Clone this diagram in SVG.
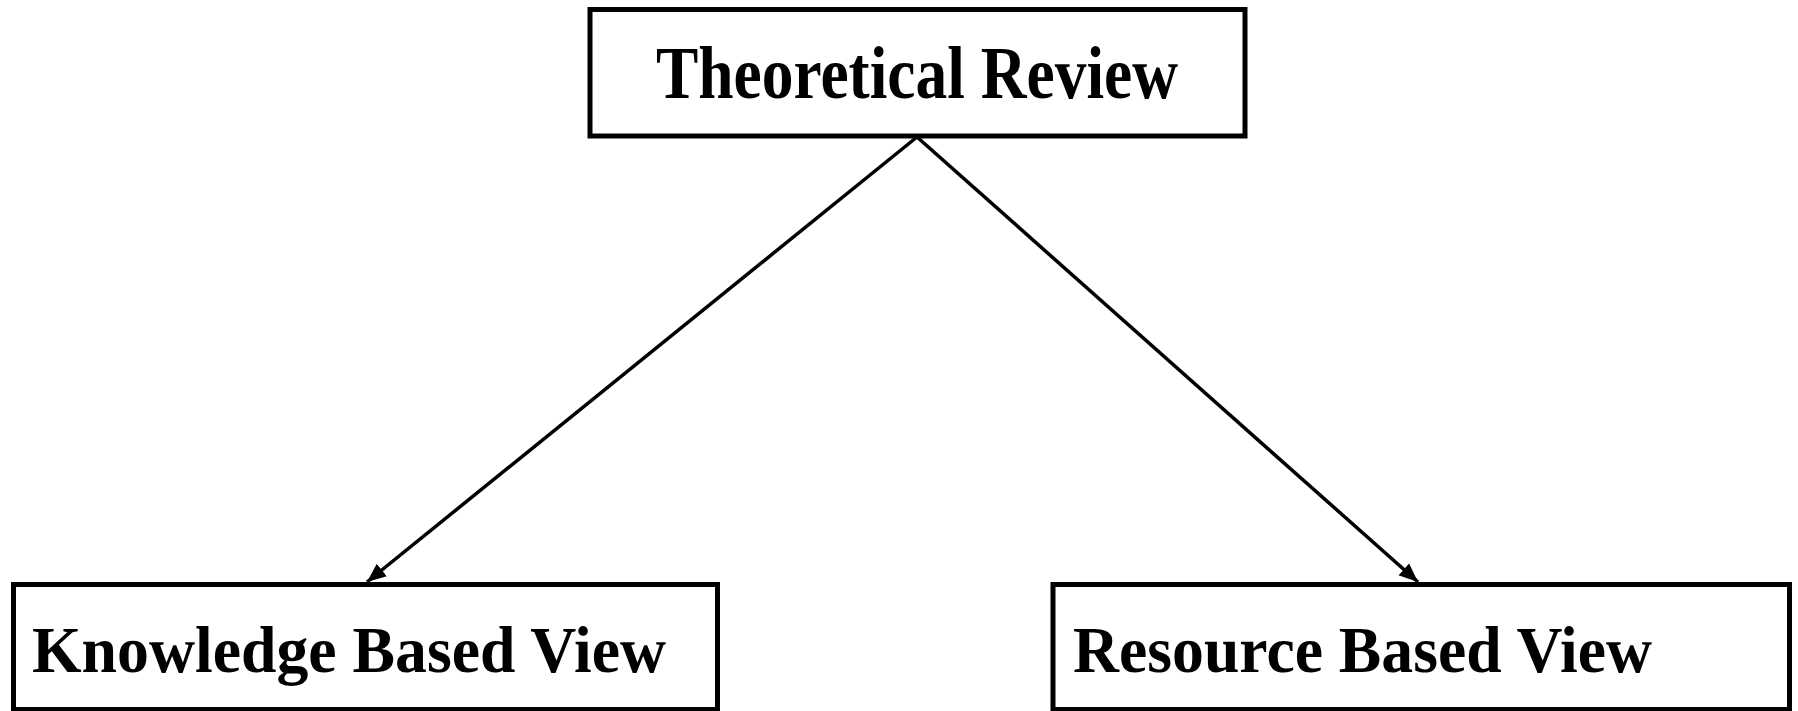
<svg xmlns="http://www.w3.org/2000/svg" width="1798" height="711" viewBox="0 0 1798 711">
<style>
.box{fill:#fff;stroke:#000;stroke-width:5}
.lbl{font-family:"Liberation Serif","Times New Roman",serif;font-weight:bold;fill:#000}
.conn{stroke:#000;stroke-width:3.5;fill:none}
</style>
<defs>
<marker id="arr" markerUnits="userSpaceOnUse" markerWidth="20" markerHeight="18" refX="19" refY="9" orient="auto">
<path d="M0,1 L19,9 L0,17 z" fill="#000"/>
</marker>
</defs>
<rect width="1798" height="711" fill="#fff"/>
<g id="connectors">
<line class="conn" x1="917" y1="137" x2="367" y2="582" marker-end="url(#arr)"/>
<line class="conn" x1="917" y1="137" x2="1418" y2="582" marker-end="url(#arr)"/>
</g>
<g id="theoretical-review">
<rect class="box" x="590" y="9.5" width="655" height="126.5"/>
<text class="lbl" x="917" y="98" font-size="75" text-anchor="middle" textLength="522" lengthAdjust="spacingAndGlyphs">Theoretical Review</text>
</g>
<g id="knowledge-based-view">
<rect class="box" x="13.5" y="584.5" width="704" height="125"/>
<text class="lbl" x="32" y="672" font-size="65" textLength="634" lengthAdjust="spacingAndGlyphs">Knowledge Based View</text>
</g>
<g id="resource-based-view">
<rect class="box" x="1053" y="584.5" width="736.5" height="125"/>
<text class="lbl" x="1073" y="672" font-size="65" textLength="579" lengthAdjust="spacingAndGlyphs">Resource Based View</text>
</g>
</svg>
